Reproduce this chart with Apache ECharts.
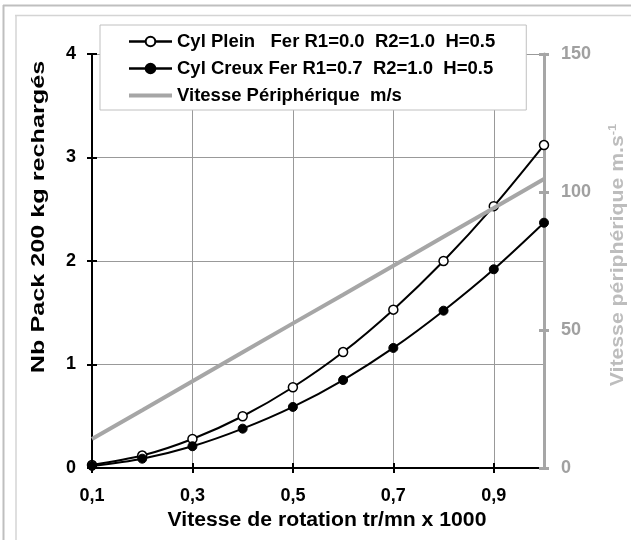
<!DOCTYPE html>
<html>
<head>
<meta charset="utf-8">
<script src="https://cdn.jsdelivr.net/npm/echarts@6/dist/echarts.min.js"></script>
<style>
html,body{margin:0;padding:0;background:#fff;}
#chart{width:631px;height:540px;}
</style>
</head>
<body>
<div id="chart"></div>
<script>
// ---- data ----
const categories = ['0,1','0,2','0,3','0,4','0,5','0,6','0,7','0,8','0,9','1,0'];
const pleinValues = [0.03, 0.12, 0.28, 0.50, 0.78, 1.12, 1.53, 2.00, 2.53, 3.12];
const creuxValues = [0.02, 0.09, 0.21, 0.38, 0.59, 0.85, 1.16, 1.52, 1.92, 2.37];
const vitesseValues = [10.5, 20.9, 31.4, 41.9, 52.4, 62.8, 73.3, 83.8, 94.2, 104.7];
const seriesNames = ['Cyl Plein   Fer R1=0.0  R2=1.0  H=0.5', 'Cyl Creux Fer R1=0.7  R2=1.0  H=0.5', 'Vitesse Périphérique  m/s'];
const leftTitle = 'Nb Pack 200 kg rechargés';
const rightTitle = 'Vitesse périphérique m.s';
const rightTitleSup = '-1';
const xTitle = 'Vitesse de rotation tr/mn x 1000';

const FONT = '"Liberation Sans", Arial, sans-serif';
const GRAY = '#A6A6A6';

const chart = echarts.init(document.getElementById('chart'), null, {renderer: 'canvas'});
const boldLabel = (color) => ({fontFamily: FONT, fontWeight: 'bold', fontSize: 18, color: color});

const option = {
  animation: false,
  backgroundColor: '#fff',
  grid: {left: 92, right: 87, top: 54, bottom: 72, containLabel: false},
  legend: {
    orient: 'vertical', left: 100, top: 25,
    backgroundColor: '#fff', borderColor: '#C0C0C0', borderWidth: 1,
    padding: [7, 31, 5, 27], itemGap: 8, itemWidth: 43, itemHeight: 12,
    textStyle: {fontFamily: FONT, fontWeight: 'bold', fontSize: 18.5, color: '#000'},
    data: [
      {name: seriesNames[0], lineStyle: {width: 2.5}},
      {name: seriesNames[1], lineStyle: {width: 2.5}},
      {name: seriesNames[2], itemStyle: {opacity: 0}, lineStyle: {width: 4, color: GRAY}}
    ]
  },
  xAxis: [{
    type: 'category', data: categories, boundaryGap: false,
    axisLine: {lineStyle: {color: '#000', width: 2}},
    axisTick: {interval: 1, length: 5, lineStyle: {color: '#000', width: 2}},
    axisLabel: Object.assign({interval: 1, margin: 19}, boldLabel('#000')),
    splitLine: {show: true, interval: 1, lineStyle: {color: '#999', width: 1}}
  }, {
    type: 'category', data: categories, boundaryGap: false, position: 'bottom',
    axisLine: {show: false},
    axisTick: {inside: true, interval: 1, length: 5, lineStyle: {color: '#000', width: 2}},
    axisLabel: {show: false}, splitLine: {show: false}
  }],
  yAxis: [{
    type: 'value', min: 0, max: 4, interval: 1, position: 'left',
    axisLine: {show: true, lineStyle: {color: '#000', width: 2}},
    axisTick: {show: true, length: 5, lineStyle: {color: '#000', width: 2}},
    axisLabel: Object.assign({margin: 16}, boldLabel('#000')),
    splitLine: {show: true, lineStyle: {color: '#999', width: 1}}
  }, {
    type: 'value', min: 0, max: 150, interval: 50, position: 'right',
    axisLine: {show: true, lineStyle: {color: GRAY, width: 3}},
    axisTick: {show: true, length: 5, lineStyle: {color: GRAY, width: 3}},
    axisLabel: Object.assign({margin: 17}, boldLabel('#A0A0A0')),
    splitLine: {show: false}
  }, {
    type: 'value', min: 0, max: 4, interval: 1, position: 'left',
    axisLine: {show: false},
    axisTick: {show: true, inside: true, length: 5, lineStyle: {color: '#000', width: 2}},
    axisLabel: {show: false}, splitLine: {show: false}
  }, {
    type: 'value', min: 0, max: 150, interval: 50, position: 'right',
    axisLine: {show: false},
    axisTick: {show: true, inside: true, length: 5, lineStyle: {color: GRAY, width: 3}},
    axisLabel: {show: false}, splitLine: {show: false}
  }],
  series: [{
    name: seriesNames[0], type: 'line', xAxisIndex: 0, yAxisIndex: 0, data: pleinValues,
    smooth: 0.3, symbol: 'circle', symbolSize: 9, z: 3,
    lineStyle: {color: '#000', width: 2},
    itemStyle: {color: '#fff', borderColor: '#000', borderWidth: 1.5}
  }, {
    name: seriesNames[1], type: 'line', xAxisIndex: 0, yAxisIndex: 0, data: creuxValues,
    smooth: 0.3, symbol: 'circle', symbolSize: 9, z: 3,
    lineStyle: {color: '#000', width: 2},
    itemStyle: {color: '#000', borderColor: '#000', borderWidth: 1}
  }, {
    name: seriesNames[2], type: 'line', xAxisIndex: 0, yAxisIndex: 1, data: vitesseValues,
    symbol: 'none', z: 4,
    lineStyle: {color: GRAY, width: 4},
    itemStyle: {color: GRAY}
  }],
  graphic: [
    {type: 'line', shape: {x1: 3.5, y1: 5, x2: 3.5, y2: 540}, style: {stroke: '#BFBFBF', lineWidth: 2}},
    {type: 'line', shape: {x1: 3, y1: 5.5, x2: 631, y2: 5.5}, style: {stroke: '#BFBFBF', lineWidth: 2}},
    {type: 'line', shape: {x1: 16, y1: 15, x2: 16, y2: 540}, style: {stroke: '#D4D4D4', lineWidth: 1.5}},
    {type: 'line', shape: {x1: 15, y1: 15.5, x2: 631, y2: 15.5}, style: {stroke: '#D4D4D4', lineWidth: 1.5}},
    {type: 'text', x: 39, y: 217, rotation: Math.PI / 2, scaleX: 1.4,
      style: {text: leftTitle, font: 'bold 18px ' + FONT, fill: '#000', align: 'center', verticalAlign: 'middle'}},
    {type: 'text', x: 618, y: 255, rotation: Math.PI / 2, scaleX: 1.18,
      style: {text: '{a|' + rightTitle + '}{b|' + rightTitleSup + '}', align: 'center', verticalAlign: 'middle',
        rich: {
          a: {fontFamily: FONT, fontWeight: 'bold', fontSize: 18, fill: '#BDBDBD', color: '#BDBDBD', lineHeight: 22},
          b: {fontFamily: FONT, fontWeight: 'bold', fontSize: 11, fill: '#BDBDBD', color: '#BDBDBD', verticalAlign: 'top', lineHeight: 22, padding: [0, 0, 9, 0]}
        }}},
    {type: 'text', x: 327, y: 520, scaleX: 1.06,
      style: {text: xTitle, font: 'bold 20px ' + FONT, fill: '#000', align: 'center', verticalAlign: 'middle'}}
  ]
};
chart.setOption(option);
</script>
</body>
</html>
